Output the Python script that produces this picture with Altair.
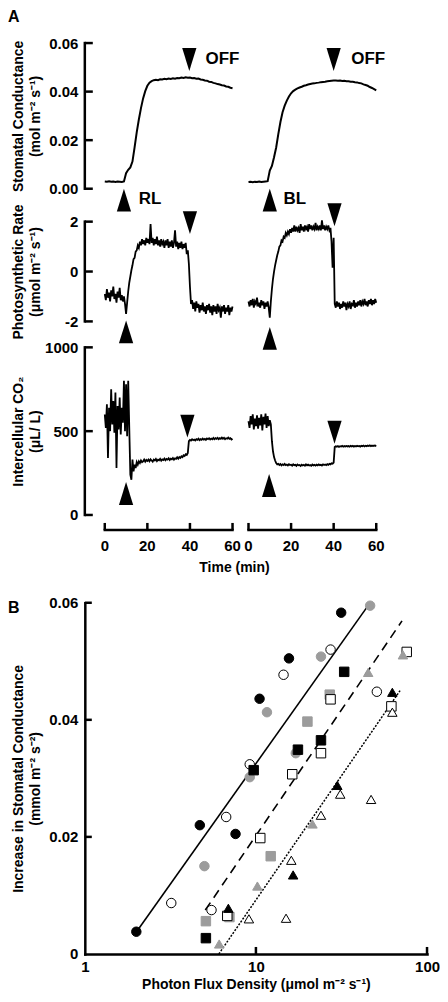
import altair as alt
import pandas as pd

FONT = "Liberation Sans"

# ---------------- labels / ticks ----------------
panel_labels = ["A", "B"]
sub_panels = ["RL", "BL"]
time_ticks = [0, 20, 40, 60]
cond_axis_values = [0.0, 0.02, 0.04, 0.06]
psn_axis_values = [-2, 0, 2]
co2_axis_values = [0, 500, 1000]
inc_axis_values = [0.0, 0.02, 0.04, 0.06]
pfd_axis_values = [1, 10, 100]

cond_title = ["Stomatal Conductance", "(mol m\u207b\u00b2 s\u207b\u00b9)"]
psn_title = ["Photosynthetic Rate", "(\u03bcmol m\u207b\u00b2 s\u207b\u00b9)"]
co2_title = ["Intercellular CO\u2082", "(\u03bcL/ L)"]
inc_title = ["Increase in Stomatal Conductance", "(mmol m\u207b\u00b2 s\u207b\u00b2)"]
pfd_title = "Photon Flux Density (\u03bcmol m\u207b\u00b2 s\u207b\u00b9)"
time_title = "Time (min)"

# ---------------- Panel A traces ----------------
cond_step = 1.0   # minutes between samples
cond_rl = [0.0030, 0.0029, 0.0031, 0.0029, 0.0030, 0.0028, 0.0030, 0.0029, 0.0028, 0.0030,
           0.0064, 0.0078, 0.0088, 0.0112, 0.0170, 0.0232, 0.0285, 0.0332, 0.0372, 0.0402,
           0.0424, 0.0437, 0.0443, 0.0447, 0.0449, 0.0447, 0.0451, 0.0450, 0.0453, 0.0451,
           0.0454, 0.0452, 0.0455, 0.0453, 0.0456, 0.0455, 0.0458, 0.0456, 0.0459, 0.0457,
           0.0458, 0.0455, 0.0456, 0.0453, 0.0454, 0.0450, 0.0449, 0.0446, 0.0445, 0.0441,
           0.0440, 0.0436, 0.0434, 0.0431, 0.0429, 0.0426, 0.0425, 0.0421, 0.0420, 0.0416, 0.0414]
cond_bl = [0.0028, 0.0029, 0.0027, 0.0029, 0.0028, 0.0030, 0.0028, 0.0029, 0.0030, 0.0031,
           0.0075, 0.0094, 0.0130, 0.0170, 0.0225, 0.0275, 0.0315, 0.0342, 0.0363, 0.0380,
           0.0393, 0.0402, 0.0408, 0.0413, 0.0417, 0.0420, 0.0424, 0.0426, 0.0429, 0.0431,
           0.0433, 0.0434, 0.0436, 0.0437, 0.0439, 0.0440, 0.0441, 0.0443, 0.0444, 0.0445,
           0.0446, 0.0446, 0.0445, 0.0446, 0.0444, 0.0445, 0.0443, 0.0443, 0.0441, 0.0441,
           0.0439, 0.0438, 0.0435, 0.0434, 0.0430, 0.0427, 0.0424, 0.0419, 0.0415, 0.0410, 0.0405]

fast_step = 0.5
psn_rl = [-0.90, -1.15, -0.70, -1.05, -0.85, -1.20, -0.75, -1.00, -0.60, -1.10,
          -0.90, -1.25, -0.80, -1.05, -0.65, -1.15, -0.95, -1.20, -1.00, -1.30,
          -1.70, -1.25, -0.80, -0.45, -0.20, 0.05, 0.25, 0.50, 0.55, 0.80,
          0.85, 1.05, 0.95, 1.20, 1.05, 1.30, 1.10, 1.25, 1.05, 1.35,
          1.15, 1.30, 1.10, 1.90, 1.15, 1.35, 1.05, 1.30, 1.10, 1.40,
          1.05, 1.25, 1.00, 1.30, 1.10, 1.20, 0.95, 1.25, 1.05, 1.30,
          0.95, 1.20, 1.00, 1.25, 0.95, 1.15, 1.65, 1.00, 1.20, 0.90,
          1.15, 0.95, 1.20, 0.90, 1.10, 0.95, 1.15, 0.70, 0.85, 0.30,
          -0.60, -1.30, -1.15, -1.50, -1.25, -1.60, -1.20, -1.45, -1.30, -1.65,
          -1.35, -1.55, -1.25, -1.60, -1.40, -1.70, -1.35, -1.55, -1.30, -1.65,
          -1.40, -1.75, -1.35, -1.60, -1.40, -1.70, -1.30, -1.55, -1.45, -1.85,
          -1.40, -1.60, -1.35, -1.70, -1.45, -1.60, -1.35, -1.75, -1.45, -1.60,
          -1.40]
psn_bl = [-1.20, -1.40, -1.15, -1.35, -1.10, -1.45, -1.20, -1.30, -1.05, -1.40,
          -1.25, -1.45, -1.15, -1.35, -1.20, -1.50, -1.25, -1.40, -1.20, -1.45,
          -1.85, -1.20, -0.70, -0.30, 0.00, 0.25, 0.45, 0.65, 0.80, 1.00,
          1.05, 1.25, 1.20, 1.40, 1.35, 1.55, 1.45, 1.60, 1.50, 1.70,
          1.55, 1.75, 1.60, 1.85, 1.60, 1.80, 1.65, 1.75, 1.55, 1.90,
          1.65, 1.80, 1.60, 1.85, 1.70, 1.80, 1.60, 1.90, 1.70, 1.85,
          1.65, 1.80, 1.70, 1.95, 1.65, 1.80, 1.70, 1.85, 1.65, 2.05,
          1.70, 1.85, 1.65, 1.80, 1.70, 1.85, 1.65, 1.75, 1.20, 0.15,
          1.35, -1.30, -1.45, -1.20, -1.40, -1.25, -1.50, -1.30, -1.45, -1.20,
          -1.40, -1.25, -1.55, -1.30, -1.40, -1.20, -1.50, -1.30, -1.35, -1.15,
          -1.45, -1.25, -1.40, -1.20, -1.35, -1.15, -1.40, -1.20, -1.30, -1.10,
          -1.35, -1.20, -1.40, -1.15, -1.30, -1.10, -1.35, -1.15, -1.30, -1.10,
          -1.25]
co2_rl = [600, 520, 660, 340, 640, 500, 750, 540, 680, 490,
          730, 280, 650, 510, 700, 480, 640, 550, 800, 500,
          780, 470, 800, 520, 240, 210, 330, 260, 300, 280,
          315, 300, 320, 310, 325, 315, 320, 330, 318, 328,
          322, 330, 320, 332, 325, 318, 330, 325, 334, 322,
          330, 326, 335, 324, 332, 328, 336, 326, 334, 330,
          338, 328, 336, 332, 340, 330, 338, 335, 344, 336,
          345, 340, 350, 345, 356, 352, 362, 358, 370, 440,
          448, 444, 452, 446, 450, 444, 452, 448, 455, 446,
          452, 448, 456, 450, 454, 448, 456, 452, 458, 450,
          456, 452, 460, 452, 458, 454, 460, 452, 458, 454,
          462, 455, 460, 452, 458, 455, 462, 454, 458, 450,
          455]
co2_bl = [560, 520, 590, 540, 600, 510, 575, 530, 595, 515,
          580, 535, 600, 505, 585, 540, 605, 520, 590, 530,
          565, 540, 440, 380, 345, 325, 310, 302, 305, 298,
          304, 296, 302, 298, 305, 297, 301, 295, 303, 298,
          300, 294, 302, 297, 299, 293, 301, 296, 298, 292,
          300, 295, 299, 294, 302, 296, 300, 295, 298, 293,
          301, 296, 299, 294, 300, 296, 302, 297, 300, 295,
          302, 298, 301, 297, 303, 299, 305, 302, 308, 306,
          312, 405, 410, 407, 411, 406, 410, 408, 412, 407,
          411, 408, 412, 409, 411, 407, 412, 409, 413, 408,
          412, 409, 413, 410, 412, 408, 413, 410, 414, 409,
          413, 410, 414, 411, 415, 410, 414, 411, 415, 412,
          416]

# light on / off arrowheads: (sub-panel, minute, value, direction)
cond_arrows = [("RL", 9.0, -0.0047, "up"), ("BL", 10.0, -0.0047, "up"),
               ("RL", 39.7, 0.0532, "down"), ("BL", 40.0, 0.0532, "down")]
psn_arrows = [("RL", 10.0, -2.42, "up"), ("BL", 10.0, -2.68, "up"),
              ("RL", 40.0, 1.96, "down"), ("BL", 40.4, 2.28, "down")]
co2_arrows = [("RL", 10.0, 128, "up"), ("BL", 9.7, 176, "up"),
              ("RL", 38.8, 530, "down"), ("BL", 40.4, 494, "down")]
cond_notes = [("RL", 47.3, 0.0534, "OFF"), ("BL", 48.3, 0.0534, "OFF"),
              ("RL", 16.0, -0.0044, "RL"), ("BL", 16.4, -0.0044, "BL")]

# ---------------- Panel B data ----------------
black_circle_pfd = [2.0, 4.7, 7.6, 10.5, 15.6, 31.5]
black_circle_inc = [0.0038, 0.0220, 0.0205, 0.0436, 0.0505, 0.0583]
gray_circle_pfd = [5.0, 9.2, 11.6, 17.1, 24.0, 46.5]
gray_circle_inc = [0.0150, 0.0302, 0.0413, 0.0343, 0.0508, 0.0595]
open_circle_pfd = [3.2, 5.5, 6.7, 9.2, 14.5, 27.3, 50.9]
open_circle_inc = [0.0087, 0.0075, 0.0234, 0.0324, 0.0477, 0.0520, 0.0448]
black_square_pfd = [5.1, 9.7, 17.6, 24.0, 32.8]
black_square_inc = [0.0027, 0.0314, 0.0349, 0.0365, 0.0482]
gray_square_pfd = [5.1, 7.0, 12.2, 20.0, 27.0]
gray_square_inc = [0.0056, 0.0063, 0.0167, 0.0397, 0.0443]
open_square_pfd = [6.8, 10.6, 16.3, 24.0, 27.3, 61.9, 76.1]
open_square_inc = [0.0065, 0.0198, 0.0307, 0.0343, 0.0435, 0.0423, 0.0516]
black_tri_pfd = [6.9, 16.5, 29.9, 62.7]
black_tri_inc = [0.0078, 0.0135, 0.0288, 0.0447]
gray_tri_pfd = [6.1, 10.2, 21.4, 45.3, 72.3]
gray_tri_inc = [0.0017, 0.0116, 0.0222, 0.0481, 0.0511]
open_tri_pfd = [9.1, 15.0, 16.1, 24.0, 31.1, 47.1, 62.7]
open_tri_inc = [0.0060, 0.0061, 0.0160, 0.0237, 0.0273, 0.0264, 0.0413]

fit_solid_pfd = [2.04, 44.7]
fit_solid_inc = [0.0041, 0.0593]
fit_dashed_pfd = [5.06, 71.4]
fit_dashed_inc = [0.0075, 0.0569]
fit_dotted_pfd = [6.07, 69.6]
fit_dotted_inc = [0.0, 0.045]

# ---------------- layout constants ----------------
SHIFT = 67.5                  # minutes between RL and BL sub-panel origins
X_DOMAIN = [-9.375, 129.8]
ROW_W = 297
LEFT = -77                    # x of the panel letters relative to the plot
TITLE_X = -59
LABEL_FS = 15
UP = "M-0.62,1L0.62,1L0,-1Z"
DOWN = "M-0.62,-1L0.62,-1L0,1Z"


def offset(panel):
    return SHIFT if panel == "BL" else 0.0


def trace_frame(rl, bl, step):
    recs = []
    for panel, vals in (("RL", rl), ("BL", bl)):
        for i, v in enumerate(vals):
            recs.append({"panel": panel, "pos": i * step + offset(panel), "v": v})
    return pd.DataFrame(recs)


def point_frame(items, cols):
    recs = []
    for it in items:
        d = dict(zip(cols, it))
        d["pos"] = d["t"] + offset(d["panel"])
        recs.append(d)
    return pd.DataFrame(recs)


def make_axis(values, expr, title, title_y, domain=False, pad=7):
    return alt.Axis(values=values, labelExpr=expr, domain=domain, domainColor="black",
                    domainWidth=2.5, domainCap="square", ticks=False, tickSize=0, grid=False,
                    labelPadding=pad, labelFlush=False, labelOverlap=False,
                    labelFontSize=LABEL_FS, labelFontWeight="bold", labelFont=FONT,
                    labelColor="black", title=title, titleFont=FONT, titleFontSize=14,
                    titleFontWeight="bold", titleColor="black", titleX=TITLE_X,
                    titleY=title_y, titleBaseline="bottom", titleAlign="center",
                    titleLineHeight=17)


def a_row(rl, bl, step, domain, height, values, expr, title, arrows, stroke_w, extra_fn=None):
    lo, hi = min(values), max(values)
    span = domain[1] - domain[0]
    px = lambda v: (domain[1] - v) / span * height
    title_y = (px(lo) + px(hi)) / 2
    xs = alt.Scale(domain=X_DOMAIN, nice=False, zero=False)
    ys = alt.Scale(domain=domain, nice=False, zero=False)
    yax = make_axis(values, expr, title, title_y)

    spine = alt.Chart(pd.DataFrame({"lo": [lo], "hi": [hi]})).mark_rule(
        color="black", strokeWidth=2.5, strokeCap="square").encode(
        x=alt.value(0), y=alt.Y("lo:Q", scale=ys, axis=yax), y2="hi:Q")
    tks = alt.Chart(pd.DataFrame({"v": values})).mark_rule(
        color="black", strokeWidth=2.5).encode(
        x=alt.value(0), x2=alt.value(8), y=alt.Y("v:Q", scale=ys, axis=yax))
    line = alt.Chart(trace_frame(rl, bl, step)).mark_line(
        color="black", strokeWidth=stroke_w).encode(
        x=alt.X("pos:Q", scale=xs, axis=None),
        y=alt.Y("v:Q", scale=ys, axis=yax),
        detail="panel:N")
    adf = point_frame(arrows, ["panel", "t", "v", "dir"])
    layers = [spine, tks, line]
    for d, path in (("up", UP), ("down", DOWN)):
        layers.append(alt.Chart(adf[adf["dir"] == d]).mark_point(
            shape=path, filled=True, size=529, color="black", opacity=1).encode(
            x=alt.X("pos:Q", scale=xs, axis=None),
            y=alt.Y("v:Q", scale=ys, axis=yax)))
    if extra_fn is not None:
        layers += extra_fn(xs, ys, yax, px)
    return alt.layer(*layers).properties(width=ROW_W, height=height)


def cond_extra(xs, ys, yax, px):
    notes = alt.Chart(point_frame(cond_notes, ["panel", "t", "v", "txt"])).mark_text(
        align="left", baseline="middle", fontSize=17, fontWeight="bold", font=FONT,
        color="black").encode(
        x=alt.X("pos:Q", scale=xs, axis=None), y=alt.Y("v:Q", scale=ys, axis=yax),
        text="txt:N")
    lab = alt.Chart(pd.DataFrame({"lab": [panel_labels[0]]})).mark_text(
        align="left", baseline="alphabetic", fontSize=16, fontWeight="bold", font=FONT,
        color="black").encode(x=alt.value(LEFT), y=alt.value(-21), text="lab:N")
    return [notes, lab]


def time_extra(xs, ys, yax, px):
    base = px(0) + 15
    segs = pd.DataFrame({"x0": [time_ticks[0] + offset(p) for p in sub_panels],
                         "x1": [time_ticks[-1] + offset(p) for p in sub_panels]})
    tdf = pd.DataFrame([{"pos": t + offset(p), "label": str(t)}
                        for p in sub_panels for t in time_ticks])
    seg = alt.Chart(segs).mark_rule(color="black", strokeWidth=2.5, strokeCap="square").encode(
        x=alt.X("x0:Q", scale=xs, axis=None), x2="x1:Q", y=alt.value(base))
    tk = alt.Chart(tdf).mark_rule(color="black", strokeWidth=2.5).encode(
        x=alt.X("pos:Q", scale=xs, axis=None), y=alt.value(base - 7), y2=alt.value(base))
    tl = alt.Chart(tdf).mark_text(fontSize=LABEL_FS, fontWeight="bold", font=FONT,
                                  color="black", baseline="middle", align="center").encode(
        x=alt.X("pos:Q", scale=xs, axis=None), y=alt.value(base + 16), text="label:N")
    tt = alt.Chart(pd.DataFrame({"lab": [time_title]})).mark_text(
        fontSize=14, fontWeight="bold", font=FONT, color="black", baseline="middle",
        align="center").encode(x=alt.value(150), y=alt.value(base + 38), text="lab:N")
    return [seg, tk, tl, tt]


row1 = a_row(cond_rl, cond_bl, cond_step, [0.06 - 179 / 146 * 0.06, 0.06], 179,
             cond_axis_values, "format(datum.value, '.2f')", cond_title, cond_arrows, 2,
             cond_extra)
row2 = a_row(psn_rl, psn_bl, fast_step, [2 - 126 / 25, 2], 126,
             psn_axis_values, "'' + datum.value", psn_title, psn_arrows, 1.8)
row3 = a_row(co2_rl, co2_bl, fast_step, [1000 - 256 / 0.168, 1000], 256,
             co2_axis_values, "'' + datum.value", co2_title, co2_arrows, 1.8, time_extra)

# ---------------- Panel B ----------------
series = [
    ("circle", "black", black_circle_pfd, black_circle_inc),
    ("circle", "gray", gray_circle_pfd, gray_circle_inc),
    ("circle", "open", open_circle_pfd, open_circle_inc),
    ("square", "black", black_square_pfd, black_square_inc),
    ("square", "gray", gray_square_pfd, gray_square_inc),
    ("square", "open", open_square_pfd, open_square_inc),
    ("triangle", "black", black_tri_pfd, black_tri_inc),
    ("triangle", "gray", gray_tri_pfd, gray_tri_inc),
    ("triangle", "open", open_tri_pfd, open_tri_inc),
]
pts = pd.DataFrame([{"marker": m, "tone": c, "pfd": x, "inc": y}
                    for m, c, xs_, ys_ in series for x, y in zip(xs_, ys_)])

B_W, B_H = 343, 352
xs_b = alt.Scale(type="log", domain=[1, 100], nice=False)
ys_b = alt.Scale(domain=[0, 0.06], nice=False, zero=False)
yax_b = make_axis(inc_axis_values, "datum.value == 0 ? '0' : format(datum.value, '.2f')",
                  inc_title, B_H / 2, domain=True)
xax_b = alt.Axis(values=pfd_axis_values, labelExpr="'' + datum.value", domain=True,
                 domainColor="black", domainWidth=2.5, domainCap="square", ticks=False,
                 tickSize=0, grid=False, labelPadding=6, labelFlush=False, labelOverlap=False,
                 labelFontSize=LABEL_FS, labelFontWeight="bold", labelFont=FONT,
                 labelColor="black", title=pfd_title, titleFont=FONT, titleFontSize=14,
                 titleFontWeight="bold", titleColor="black", titlePadding=3)


def fit_layer(px_, py_, dash, width):
    kw = dict(color="black", strokeWidth=width)
    if dash:
        kw["strokeDash"] = dash
    return alt.Chart(pd.DataFrame({"pfd": px_, "inc": py_})).mark_line(**kw).encode(
        x=alt.X("pfd:Q", scale=xs_b, axis=xax_b), y=alt.Y("inc:Q", scale=ys_b, axis=yax_b))


fits = [fit_layer(fit_solid_pfd, fit_solid_inc, None, 1.6),
        fit_layer(fit_dashed_pfd, fit_dashed_inc, [9, 6], 1.6),
        fit_layer(fit_dotted_pfd, fit_dotted_inc, [2, 1.5], 1.5)]

tones = ["black", "gray", "open"]
points = alt.Chart(pts).mark_point(filled=True, size=90, strokeWidth=1, opacity=1).encode(
    x=alt.X("pfd:Q", scale=xs_b, axis=xax_b),
    y=alt.Y("inc:Q", scale=ys_b, axis=yax_b),
    shape=alt.Shape("marker:N", scale=alt.Scale(domain=["circle", "square", "triangle"],
                                                range=["circle", "square", "triangle-up"]),
                    legend=None),
    fill=alt.Fill("tone:N", scale=alt.Scale(domain=tones,
                                            range=["#000000", "#9c9c9c", "#ffffff"]),
                  legend=None),
    stroke=alt.Stroke("tone:N", scale=alt.Scale(domain=tones,
                                                range=["#000000", "#9c9c9c", "#000000"]),
                      legend=None))

ytk_b = alt.Chart(pd.DataFrame({"v": inc_axis_values[1:]})).mark_rule(
    color="black", strokeWidth=2.5).encode(
    x=alt.value(0), x2=alt.value(7), y=alt.Y("v:Q", scale=ys_b, axis=yax_b))
xtk_b = alt.Chart(pd.DataFrame({"v": pfd_axis_values[1:]})).mark_rule(
    color="black", strokeWidth=2.5).encode(
    x=alt.X("v:Q", scale=xs_b, axis=xax_b), y=alt.value(B_H - 7), y2=alt.value(B_H))
lab_b = alt.Chart(pd.DataFrame({"lab": [panel_labels[1]]})).mark_text(
    align="left", baseline="alphabetic", fontSize=16, fontWeight="bold", font=FONT,
    color="black").encode(x=alt.value(LEFT), y=alt.value(10), text="lab:N")

panel_b = alt.layer(*fits, points, ytk_b, xtk_b, lab_b).properties(width=B_W, height=B_H)

chart = alt.vconcat(row1, row2, row3, panel_b, spacing=0, bounds="flush").resolve_scale(
    shape="independent", fill="independent", stroke="independent").properties(
    padding=0, autosize=alt.AutoSizeParams(type="pad")).configure(
    font=FONT).configure_view(stroke=None)

chart.save("out.html", embed_options={"renderer": "svg", "actions": False})
